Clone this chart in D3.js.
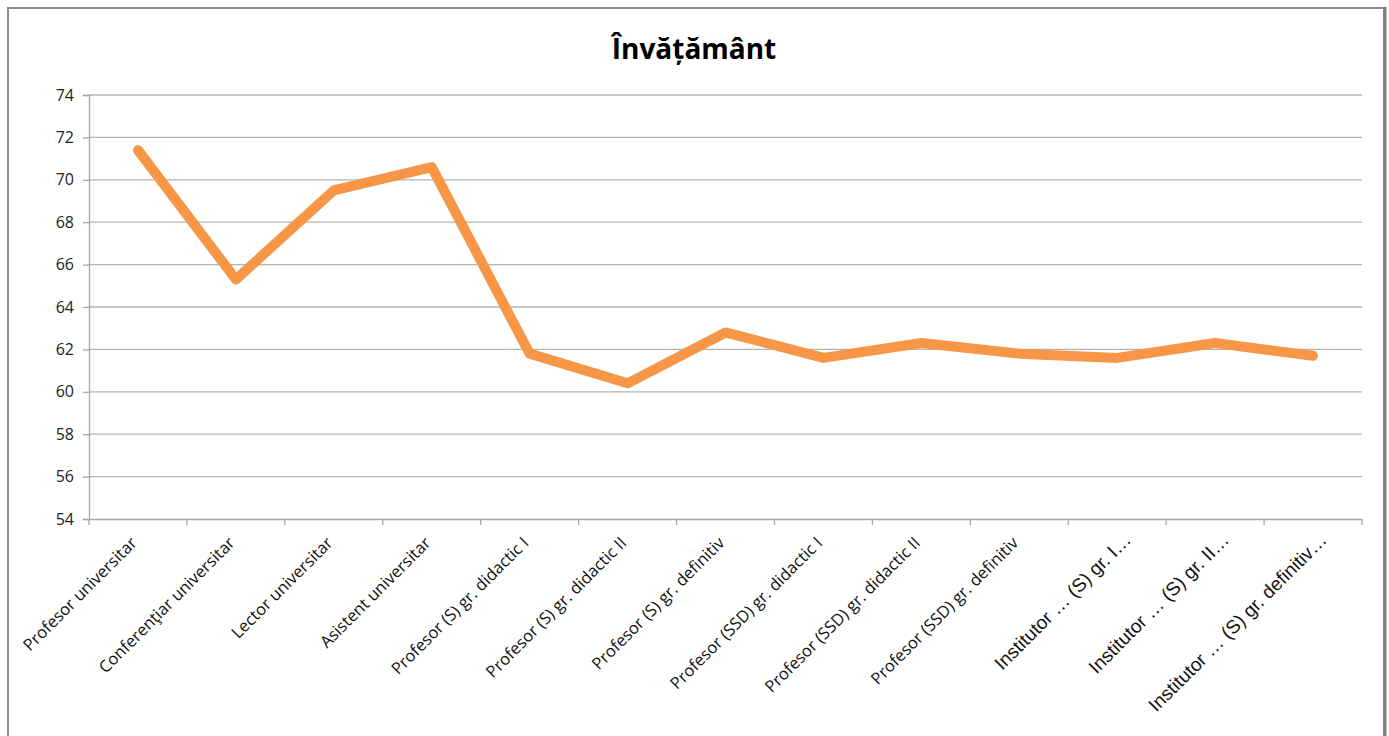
<!DOCTYPE html>
<html><head><meta charset="utf-8">
<script src="https://cdn.jsdelivr.net/npm/d3@7"></script>
<style>body{margin:0;background:#fff;}svg{display:block;}</style>
</head><body>
<svg id="c" width="1389" height="736"></svg>
<script>
const categories = ["Profesor universitar","Conferenţiar universitar","Lector universitar","Asistent universitar","Profesor (S) gr. didactic I","Profesor (S) gr. didactic II","Profesor (S) gr. definitiv","Profesor (SSD) gr. didactic  I","Profesor (SSD) gr. didactic II","Profesor (SSD) gr. definitiv","Institutor … (S) gr. I…","Institutor … (S) gr. II…","Institutor … (S) gr. definitiv…"];
const values = [71.4,65.3,69.5,70.6,61.8,60.4,62.8,61.6,62.3,61.8,61.6,62.3,61.7];
const yTicks = [54,56,58,60,62,64,66,68,70,72,74];
const title = "Învățământ";

const svg = d3.select("#c");
const L=89,R=1362,T=95,B=519;
const font = "'Open Sans', Lato, sans-serif";
const font2 = "'Liberation Sans', Arial, sans-serif";

// frame
svg.append("rect").attr("x",8).attr("y",8).attr("width",1376).attr("height",740)
  .attr("fill","none").attr("stroke","#8c8c8c").attr("stroke-width",2);
svg.append("line").attr("x1",1385).attr("x2",1385).attr("y1",7).attr("y2",736).attr("stroke","#7f7f7f").attr("stroke-width",3);

const x = d3.scaleBand().domain(categories).range([L,R]).padding(0);
const y = d3.scaleLinear().domain([54,74]).range([B,T]);

// gridlines
svg.append("g").selectAll("line").data(yTicks.slice(1)).join("line")
  .attr("x1",L).attr("x2",R).attr("y1",d=>y(d)).attr("y2",d=>y(d))
  .attr("stroke","#b3b3b3").attr("stroke-width",1.3);

// y axis
const ya = svg.append("g").attr("transform",`translate(${L},0)`)
  .call(d3.axisLeft(y).tickValues(yTicks).tickSize(6).tickPadding(9));
ya.select(".domain").attr("stroke","#a6a6a6").attr("stroke-width",1.3);
ya.selectAll(".tick line").attr("stroke","#a6a6a6").attr("stroke-width",1.3);
ya.selectAll("text").attr("font-family",font).attr("font-size",16).attr("fill","#222");

// x axis
const xa = svg.append("g").attr("transform",`translate(0,${B})`)
  .call(d3.axisBottom(x).tickSize(0).tickFormat(""));
xa.select(".domain").attr("stroke","#a6a6a6").attr("stroke-width",1.3);
const bounds = categories.map(c=>x(c)).concat([R]);
xa.append("g").selectAll("line").data(bounds).join("line")
  .attr("x1",d=>d).attr("x2",d=>d).attr("y1",0).attr("y2",6)
  .attr("stroke","#a6a6a6").attr("stroke-width",1.3);

// x labels
svg.append("g").selectAll("text").data(categories).join("text")
  .attr("transform",(d,i)=>{
    const cx = x(d)+x.bandwidth()/2;
    return i>=10 ? `translate(${cx+15},${B+22}) rotate(-45)` : `translate(${cx},${B+25}) rotate(-45)`;
  })
  .attr("text-anchor","end")
  .attr("font-family",(d,i)=>i>=10?font2:font)
  .attr("font-size",(d,i)=>i>=10?19:16.5)
  .attr("fill","#111")
  .text(d=>d);

// line
const line = d3.line().x((d,i)=>x(categories[i])+x.bandwidth()/2).y(d=>y(d));
svg.append("path").datum(values).attr("d",line).attr("fill","none")
  .attr("stroke","#F79646").attr("stroke-width",10).attr("stroke-linejoin","round").attr("stroke-linecap","round");

// title
svg.append("text").attr("x",694).attr("y",59).attr("text-anchor","middle")
  .attr("font-family","'Open Sans', Lato, sans-serif").attr("font-weight","bold").attr("font-size",28).attr("fill","#000")
  .text(title);
</script>
</body></html>
